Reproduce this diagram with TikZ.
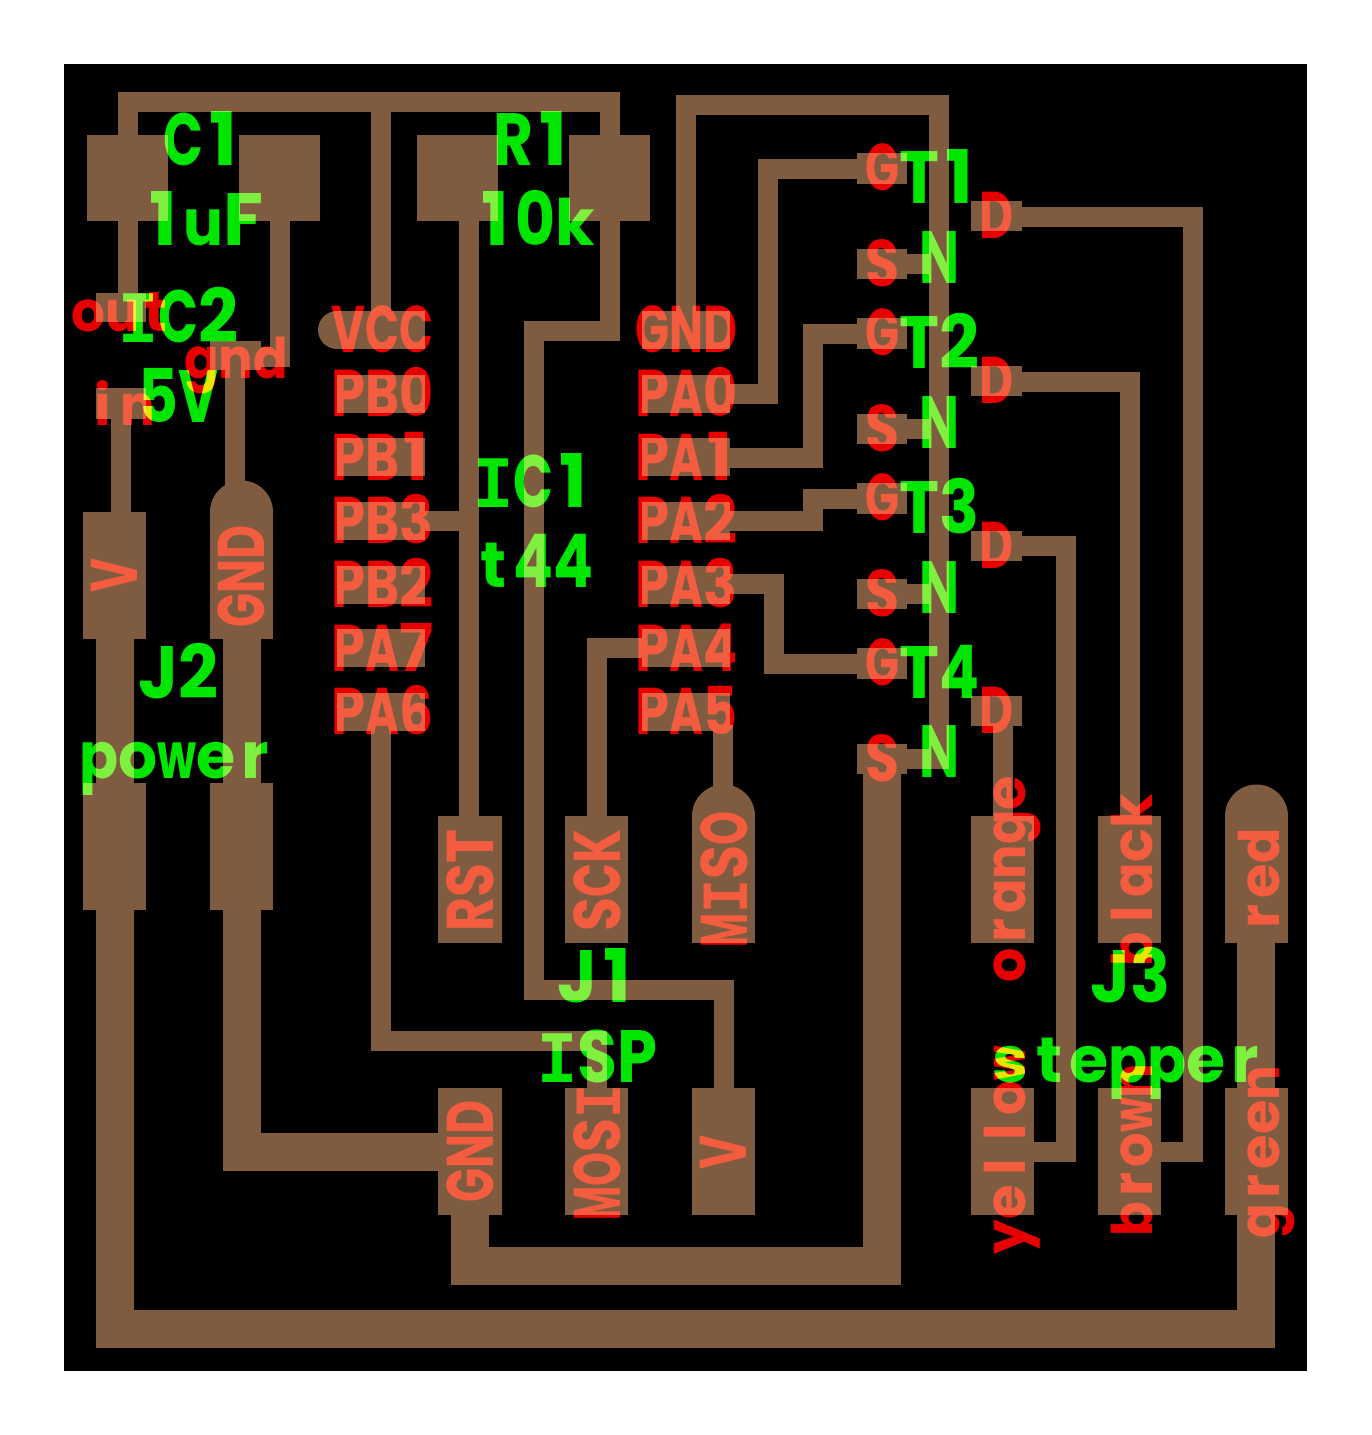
\documentclass[tikz,border=0pt]{standalone}
\usepackage{graphicx}
\usepackage{fontspec}
\setmainfont{Poppins}
\newfontfamily\slabfont{Liberation Mono}
\definecolor{cu}{HTML}{7F5C3F}
\definecolor{lred}{HTML}{E60000}
\definecolor{lgreen}{HTML}{00E600}
\newcommand{\capbig}{\bfseries\fontsize{55.5}{55.5}\selectfont}
\newcommand{\lcbig}{\bfseries\fontsize{48}{48}\selectfont}
\newcommand{\capsm}{\bfseries\fontsize{49.5}{49.5}\selectfont}
\newcommand{\lcsm}{\bfseries\fontsize{42}{42}\selectfont}
\newcommand{\slabI}{\slabfont\bfseries I}
\newlength{\fitw}
\newsavebox{\chbox}
\makeatletter
\newcommand{\fitchar}[1]{\sbox{\chbox}{#1}%
  \ifdim\wd\chbox>\fitw
    \makebox[\fitw][c]{\resizebox{\fitw}{\ht\chbox}{\usebox{\chbox}}}%
  \else
    \makebox[\fitw][c]{\usebox{\chbox}}%
  \fi}
\newcommand{\fixedrun}[2]{\setlength{\fitw}{#1}\@tfor\runch:=#2\do{\fitchar{\runch}}}
\makeatother
\tikzset{
  lbl/.style={inner sep=0pt,outer sep=0pt,anchor=base},
  gcap/.style={lbl,text=lgreen,font=\capbig},
  glc/.style={lbl,text=lgreen,font=\lcbig},
  rcap/.style={lbl,text=lred,font=\capsm},
  rlc/.style={lbl,text=lred,font=\lcsm},
  vert/.style={rotate=90},
  thin trace/.style={draw=cu,line width=15pt,line cap=butt,line join=miter},
  wide trace/.style={draw=cu,line width=28.5pt,line cap=butt,line join=miter},
  pad/.style={fill=cu},
}
\begin{document}
\begin{tikzpicture}[x=0.75pt,y=-0.75pt]
\useasboundingbox (0,0) rectangle (1371,1435);
\fill[white] (0,0) rectangle (1371,1435);
\fill[black] (64,64) rectangle (1307,1371);
% --- traces
\draw[thin trace] (127.5,220) -- (127.5,102) -- (610,102) -- (610,331) -- (534,331) -- (534,990) -- (724,990) -- (724,1090);
\draw[thin trace] (127.5,220) -- (127.5,295);
\draw[thin trace] (381,102) -- (381,312);
\draw[thin trace] (279.5,220) -- (279.5,356.5) -- (255,356.5);
\draw[thin trace] (235,365) -- (235,490);
\draw[thin trace] (121,415) -- (121,515);
\draw[thin trace] (469,220) -- (469,818);
\draw[thin trace] (420,521) -- (469,521);
\draw[thin trace] (685.5,312) -- (685.5,105) -- (939,105) -- (939,769);
\draw[thin trace] (725,394) -- (768,394) -- (768,168.5) -- (860,168.5);
\draw[thin trace] (725,457.5) -- (813,457.5) -- (813,333.5) -- (860,333.5);
\draw[thin trace] (725,521) -- (812.5,521) -- (812.5,498.5) -- (860,498.5);
\draw[thin trace] (725,584) -- (774,584) -- (774,663.5) -- (860,663.5);
\draw[thin trace] (645,648) -- (597,648) -- (597,818);
\draw[thin trace] (723,725) -- (723,820);
\draw[thin trace] (381,725) -- (381,1041) -- (597,1041) -- (597,1090);
\draw[thin trace] (900,264) -- (939,264);
\draw[thin trace] (900,429) -- (939,429);
\draw[thin trace] (900,594) -- (939,594);
\draw[thin trace] (900,759) -- (939,759);
\draw[thin trace] (1015,216.5) -- (1193,216.5) -- (1193,1151.5) -- (1155,1151.5);
\draw[thin trace] (1015,381.5) -- (1130,381.5) -- (1130,818);
\draw[thin trace] (1015,546) -- (1066,546) -- (1066,1151.5) -- (1030,1151.5);
\draw[thin trace] (1002.5,720) -- (1002.5,818);
\draw[wide trace] (115,635) -- (115,1329) -- (1256,1329) -- (1256,940);
\draw[wide trace] (241.5,635) -- (241.5,1152) -- (442,1152);
\draw[wide trace] (470,1210) -- (470,1266) -- (882,1266) -- (882,770);
% --- C1 and R1 pads
\fill[pad] (87,135) rectangle (168,221);
\fill[pad] (239,135) rectangle (320,221);
\fill[pad] (417,135) rectangle (498,221);
\fill[pad] (569,135) rectangle (650,221);
% --- IC2 pads
\fill[pad] (96,293) rectangle (146,322);
\fill[pad] (210,341) rectangle (261,370);
\fill[pad] (96,388) rectangle (146,419);
% --- IC1 pads
\fill[pad] (337,311) rectangle (425,349);
\fill[pad] (337,330) circle[radius=19];
\foreach \yy in {375,438,502,566,629,693}{\fill[pad] (337,\yy) rectangle (425,\yy+38);}
\foreach \yy in {311,375,438,502,566,629,693}{\fill[pad] (642,\yy) rectangle (730,\yy+38);}
% --- transistors
\foreach \yy in {0,165,330,495}{
  \fill[pad] (857,153+\yy) rectangle (907,184+\yy);
  \fill[pad] (857,249+\yy) rectangle (907,279+\yy);
  \fill[pad] (971,201+\yy) rectangle (1022,231+\yy);
}
% --- connector pads
\fill[pad] (83,512) rectangle (146,639);
\fill[pad] (210,512) rectangle (273,639);
\fill[pad] (241.5,512) circle[radius=31.5];
\fill[pad] (83,783) rectangle (146,910);
\fill[pad] (210,783) rectangle (273,910);
\fill[pad] (438,816) rectangle (502,943);
\fill[pad] (565,816) rectangle (628,943);
\fill[pad] (692,816) rectangle (755,943);
\fill[pad] (723.5,816) circle[radius=31.5];
\fill[pad] (971,816) rectangle (1034,943);
\fill[pad] (1098,816) rectangle (1161,943);
\fill[pad] (1225,816) rectangle (1288,943);
\fill[pad] (1256.5,816) circle[radius=31.5];
\fill[pad] (438,1088) rectangle (502,1215);
\fill[pad] (565,1088) rectangle (628,1215);
\fill[pad] (692,1088) rectangle (755,1215);
\fill[pad] (971,1088) rectangle (1034,1215);
\fill[pad] (1098,1088) rectangle (1161,1215);
\fill[pad] (1225,1088) rectangle (1288,1215);
\begin{scope}[blend mode=screen]
% --- red labels
\node[rcap] (vcc) at (382,352) {\fixedrun{25.5pt}{VCC}};
\node[rcap] (pb0) at (382,416.5) {\fixedrun{25.5pt}{PB0}};
\node[rcap] (pb1) at (382,480) {\fixedrun{25.5pt}{PB1}};
\node[rcap] (pb3) at (382,543.5) {\fixedrun{25.5pt}{PB3}};
\node[rcap] (pb2) at (382,607) {\fixedrun{25.5pt}{PB2}};
\node[rcap] (pa7) at (382,671) {\fixedrun{25.5pt}{PA7}};
\node[rcap] (pa6) at (382,734) {\fixedrun{25.5pt}{PA6}};
\node[rcap] (gnd) at (686,352) {\fixedrun{25.5pt}{GND}};
\node[rcap] (pa0) at (686,416.5) {\fixedrun{25.5pt}{PA0}};
\node[rcap] (pa1) at (686,480) {\fixedrun{25.5pt}{PA1}};
\node[rcap] (pa2) at (686,543.5) {\fixedrun{25.5pt}{PA2}};
\node[rcap] (pa3) at (686,607) {\fixedrun{25.5pt}{PA3}};
\node[rcap] (pa4) at (686,671) {\fixedrun{25.5pt}{PA4}};
\node[rcap] (pa5) at (686,734) {\fixedrun{25.5pt}{PA5}};
\foreach \nm/\yy in {a/0,b/165,c/330,d/495}{
  \node[rcap] (g\nm) at (882,190+\yy) {\fixedrun{25.5pt}{G}};
  \node[rcap] (s\nm) at (882,286+\yy) {\fixedrun{25.5pt}{S}};
  \node[rcap] (d\nm) at (996,238.5+\yy) {\fixedrun{25.5pt}{D}};
}
\node[rlc] (lout) at (122,331) {\fixedrun{25.5pt}{out}};
\node[rlc] (lgnd) at (236,378) {\fixedrun{26pt}{gnd}};
\node[rlc] (lin) at (120,425) {\fixedrun{26pt}{in}};
\node[rcap,vert] (jv) at (137,575) {\fixedrun{25.5pt}{V}};
\node[rcap,vert] (jg) at (264,576) {\fixedrun{25.5pt}{GND}};
\node[rcap,vert] (rst) at (493,880) {\fixedrun{25.5pt}{RST}};
\node[rcap,vert] (sck) at (620,880) {\fixedrun{25.5pt}{SCK}};
\node[rcap,vert] (miso) at (747,879) {\fixedrun{25.5pt}{M{\slabI}SO}};
\node[rcap,vert] (jgb) at (493,1151) {\fixedrun{25.5pt}{GND}};
\node[rcap,vert] (mosi) at (620,1152) {\fixedrun{25.5pt}{MOS{\slabI}}};
\node[rcap,vert] (jvb) at (746,1152) {\fixedrun{25.5pt}{V}};
\node[rlc,vert] (lred) at (1279,881) {\fixedrun{26.5pt}{red}};
\node[rlc,vert] (lorange) at (1025,879) {\fixedrun{25.8pt}{orange}};
\node[rlc,vert] (lblack) at (1152,880) {\fixedrun{25.8pt}{black}};
\node[rlc,vert] (lyellow) at (1025,1150) {\fixedrun{26pt}{yellow}};
\node[rlc,vert] (lbrown) at (1152,1150) {\fixedrun{26pt}{brown}};
\node[rlc,vert] (lgreen) at (1279,1152) {\fixedrun{26pt}{green}};
% --- green labels
\node[gcap] (lc1) at (203,165) {\fixedrun{30pt}{C1}};
\node[gcap] (luf) at (203,245) {\fixedrun{30pt}{1{\lcbig u}F}};
\node[gcap] (lr1) at (533,165) {\fixedrun{30pt}{R1}};
\node[gcap] (ltenk) at (535,245) {\fixedrun{30pt}{10{\lcbig k}}};
\node[gcap] (lic2) at (178,342) {\fixedrun{30pt}{{\slabI}C2}};
\node[gcap] (l5v) at (178,422) {\fixedrun{30pt}{5V}};
\node[gcap] (lic1) at (533,507) {\fixedrun{30pt}{{\slabI}C1}};
\node[gcap] (lt44) at (533,587) {\fixedrun{30pt}{{\lcbig t}44}};
\node[gcap] (lj2) at (178,698) {\fixedrun{30pt}{J2}};
\node[glc] (lpower) at (177,778) {\fixedrun{29.3pt}{power}};
\node[gcap] (lj1) at (597,1002) {\fixedrun{30pt}{J1}};
\node[gcap] (lisp) at (597,1082) {\fixedrun{30pt}{{\slabI}SP}};
\node[gcap] (lj3) at (1130,1002) {\fixedrun{30pt}{J3}};
\node[glc] (lstep) at (1128,1082) {\fixedrun{29.3pt}{stepper}};
\node[gcap] (lt1) at (939,203) {\fixedrun{30pt}{T1}};
\node[gcap] (lt2) at (939,368) {\fixedrun{30pt}{T2}};
\node[gcap] (lt3) at (939,533) {\fixedrun{30pt}{T3}};
\node[gcap] (lt4) at (939,698) {\fixedrun{30pt}{T4}};
\node[gcap] (ln1) at (939,283) {\fixedrun{30pt}{N}};
\node[gcap] (ln2) at (939,448) {\fixedrun{30pt}{N}};
\node[gcap] (ln3) at (939,613) {\fixedrun{30pt}{N}};
\node[gcap] (ln4) at (939,777) {\fixedrun{30pt}{N}};
\end{scope}
\end{tikzpicture}
\end{document}
